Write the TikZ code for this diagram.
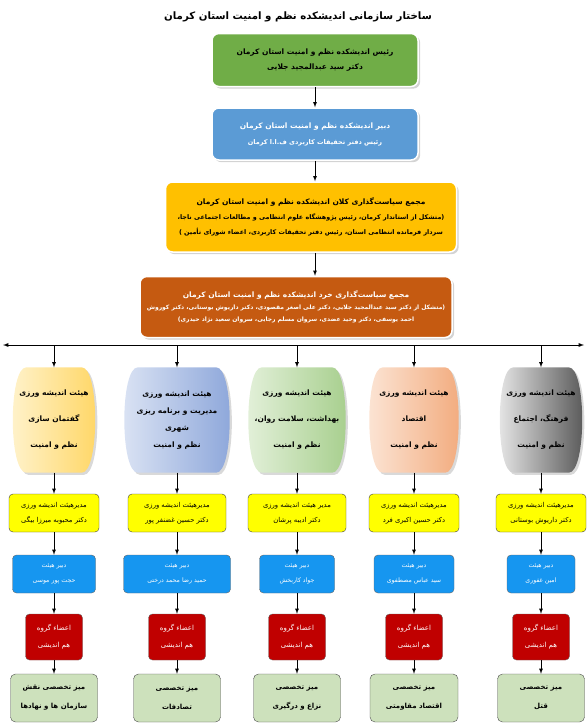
\documentclass[tikz,border=0pt]{standalone}
\usepackage{fontspec}
\usepackage{tikz}
\usetikzlibrary{shadows,backgrounds}
\TeXXeTstate=1
\newfontfamily\arabicfont[Script=Arabic]{DejaVu Sans}
\newcommand{\fa}[1]{{\arabicfont\beginR #1\endR}}
\newcommand{\fsz}[2]{\fontsize{#1}{#2}\selectfont}

\definecolor{chiefgreen}{RGB}{112,173,71}
\definecolor{secblue}{RGB}{91,155,213}
\definecolor{macrogold}{RGB}{255,192,0}
\definecolor{microrust}{RGB}{197,90,17}
\definecolor{mgryellow}{RGB}{255,255,0}
\definecolor{rowblue}{RGB}{22,150,240}
\definecolor{memred}{RGB}{192,0,0}
\definecolor{deskgreen}{RGB}{205,225,188}
\definecolor{yelL}{RGB}{255,243,206}
\definecolor{yelR}{RGB}{255,214,100}
\definecolor{bluL}{RGB}{220,228,244}
\definecolor{bluR}{RGB}{140,166,218}
\definecolor{grnL}{RGB}{228,241,219}
\definecolor{grnR}{RGB}{166,206,140}
\definecolor{salL}{RGB}{252,230,215}
\definecolor{salR}{RGB}{242,170,124}
\definecolor{gryL}{RGB}{235,235,235}
\definecolor{gryR}{RGB}{85,85,85}

\begin{document}
\begin{tikzpicture}[x=1pt, y=-1pt, >=latex,
  topbox/.style={rectangle, rounded corners=7pt, draw=white, line width=1.5pt, drop shadow={opacity=0.35}, align=center, inner sep=2pt},
  board/.style={rectangle, align=center, inner sep=1pt, minimum height=105pt, font=\bfseries\fsz{7.5}{26}},
  mgr/.style={rectangle, rounded corners=4pt, draw=black!75, fill=mgryellow, align=center, minimum height=38pt, inner sep=1pt, font=\fsz{6.8}{15}},
  sec/.style={rectangle, rounded corners=4pt, draw=black!60, fill=rowblue, text=white, align=center, minimum height=38pt, inner sep=1pt, font=\fsz{6.2}{15}},
  mem/.style={rectangle, rounded corners=4pt, draw=black!60, fill=memred, text=white, align=center, minimum height=46pt, inner sep=1pt, font=\fsz{7}{17}},
  desk/.style={rectangle, rounded corners=5pt, draw=black!70, fill=deskgreen, align=center, minimum height=48pt, inner sep=1pt, font=\bfseries\fsz{7}{19}},
  link/.style={->, line width=0.8pt}]
  \useasboundingbox (0,0) rectangle (587,726);

  % top chain
  \node (title) at (298,17) {\bfseries\fsz{10.2}{13}\fa{ساختار سازمانی اندیشکده نظم و امنیت استان کرمان}};
  \node[topbox, fill=chiefgreen, minimum width=206pt, minimum height=53pt, font=\bfseries\fsz{7.5}{15}] (chief) at (315,60)
    {\fa{رئیس اندیشکده نظم و امنیت استان کرمان}\\\fa{دکتر سید عبدالمجید جلایی}};
  \node[topbox, fill=secblue, text=white, minimum width=206pt, minimum height=52pt, font=\bfseries\fsz{7.5}{16}] (secretary) at (315,134)
    {\fa{دبیر اندیشکده نظم و امنیت استان کرمان}\\{\fsz{6.5}{16}\fa{رئیس دفتر تحقیقات کاربردی ف.ا.ا کرمان}}};
  \node[topbox, fill=macrogold, minimum width=291pt, minimum height=70pt, font=\bfseries\fsz{6.4}{15}] (macro) at (311,217)
    {{\fsz{7.5}{15}\fa{مجمع سیاست‌گذاری کلان اندیشکده نظم و امنیت استان کرمان}}\\
     \fa{(متشکل از  استاندار کرمان، رئیس پژوهشگاه علوم انتظامی و مطالعات اجتماعی ناجا،}\\
     \fa{سردار فرمانده انتظامی استان، رئیس دفتر تحقیقات کاربردی، اعضاء شورای تأمین )}};
  \node[topbox, fill=microrust, text=white, minimum width=312pt, minimum height=61pt, font=\bfseries\fsz{6}{12}] (micro) at (296,307)
    {{\fsz{7.5}{13}\fa{مجمع سیاست‌گذاری خرد اندیشکده نظم و امنیت استان کرمان}}\\
     \fa{(متشکل از  دکتر سید عبدالمجید جلایی، دکتر علی اصغر مقصودی، دکتر داریوش بوستانی، دکتر کوروش}\\
     \fa{احمد یوسفی، دکتر وحید عضدی، سروان مسلم رجایی، سروان سعید نژاد حیدری)}};

  \draw[link] (chief) -- (secretary);
  \draw[link] (secretary.south) -- (secretary.south |- macro.north);
  \draw[link] (macro.south -| secretary.south) -- (secretary.south |- micro.north);

  % horizontal bar
  \coordinate (barL) at (3,345);
  \coordinate (barR) at (584,345);
  \draw[<->, line width=0.9pt] (barL) -- (barR);

  % boards
  \node[board, minimum width=73pt] (board1) at (54,420) {\fa{هیئت اندیشه ورزی}\\\fa{گفتمان سازی}\\\fa{نظم و امنیت}};
  \node[board, minimum width=96pt, font=\bfseries\fsz{7.5}{17}] (board2) at (177,420) {\fa{هیئت اندیشه ورزی}\\\fa{مدیریت و برنامه ریزی}\\\fa{شهری}\\\fa{نظم و امنیت}};
  \node[board, minimum width=88pt] (board3) at (297,420) {\fa{هیئت اندیشه ورزی}\\\fa{بهداشت، سلامت روان،}\\\fa{نظم و امنیت}};
  \node[board, minimum width=80pt] (board4) at (414,420) {\fa{هیئت اندیشه ورزی}\\\fa{اقتصاد}\\\fa{نظم و امنیت}};
  \node[board, minimum width=73pt] (board5) at (541,420) {\fa{هیئت اندیشه ورزی}\\\fa{فرهنگ، اجتماع}\\\fa{نظم و امنیت}};

  \begin{scope}[on background layer]
    \foreach \n/\cl/\cr in {board1/yelL/yelR, board2/bluL/bluR, board3/grnL/grnR, board4/salL/salR, board5/gryL/gryR}
      \shade[left color=\cl, right color=\cr, drop shadow={opacity=0.3}]
        ([xshift=9pt]\n.north west) -- ([xshift=-9pt]\n.north east)
        .. controls ([xshift=9pt]\n.north east) and ([xshift=9pt]\n.south east) .. ([xshift=-9pt]\n.south east)
        -- ([xshift=9pt]\n.south west)
        .. controls ([xshift=-9pt]\n.south west) and ([xshift=-9pt]\n.north west) .. ([xshift=9pt]\n.north west) -- cycle;
  \end{scope}

  % board managers
  \node[mgr, minimum width=90pt] (mgr1) at (54,513) {\fa{مدیرهیئت اندیشه ورزی}\\\fa{دکتر محبوبه میرزا بیگی}};
  \node[mgr, minimum width=98pt] (mgr2) at (177,513) {\fa{مدیرهیئت اندیشه ورزی}\\\fa{دکتر حسین غضنفر پور}};
  \node[mgr, minimum width=98pt] (mgr3) at (297,513) {\fa{مدیر هیئت اندیشه ورزی}\\\fa{دکتر ادیبه پرشان}};
  \node[mgr, minimum width=90pt] (mgr4) at (414,513) {\fa{مدیرهیئت اندیشه ورزی}\\\fa{دکتر حسین اکبری فرد}};
  \node[mgr, minimum width=90pt] (mgr5) at (541,513) {\fa{مدیرهیئت اندیشه ورزی}\\\fa{دکتر داریوش بوستانی}};

  % board secretaries
  \node[sec, minimum width=83pt] (sec1) at (54,574) {\fa{دبیر هیئت}\\\fa{حجت پور موسی}};
  \node[sec, minimum width=107pt] (sec2) at (177,574) {\fa{دبیر هیئت}\\\fa{حمید رضا محمد درختی}};
  \node[sec, minimum width=75pt] (sec3) at (297,574) {\fa{دبیر هیئت}\\\fa{جواد کاربخش}};
  \node[sec, minimum width=80pt] (sec4) at (414,574) {\fa{دبیر هیئت}\\\fa{سید عباس مصطفوی}};
  \node[sec, minimum width=68pt] (sec5) at (541,574) {\fa{دبیر هیئت}\\\fa{امین غفوری}};

  % members and desks
  \foreach \i/\x in {1/54, 2/177, 3/297, 4/414, 5/541} {
    \node[mem, minimum width=57pt] (mem\i) at (\x,637) {\fa{اعضاء گروه}\\\fa{هم اندیشی}};
    \coordinate (tap\i) at (\x,345);
  }
  \node[desk, minimum width=87pt] (desk1) at (54,698) {\fa{میز تخصصی نقش}\\\fa{سازمان ها و نهادها}};
  \node[desk, minimum width=87pt] (desk2) at (177,698) {\fa{میز تخصصی}\\\fa{تصادفات}};
  \node[desk, minimum width=87pt] (desk3) at (297,698) {\fa{میز تخصصی}\\\fa{نزاع و درگیری}};
  \node[desk, minimum width=88pt] (desk4) at (414,698) {\fa{میز تخصصی}\\\fa{اقتصاد مقاومتی}};
  \node[desk, minimum width=87pt] (desk5) at (541,698) {\fa{میز تخصصی}\\\fa{قتل}};

  \foreach \i in {1,...,5} {
    \draw[link] (tap\i) -- (board\i);
    \draw[link] (board\i) -- (mgr\i);
    \draw[link] (mgr\i) -- (sec\i);
    \draw[link] (sec\i) -- (mem\i);
    \draw[link] (mem\i) -- (desk\i);
  }
\end{tikzpicture}
\end{document}
